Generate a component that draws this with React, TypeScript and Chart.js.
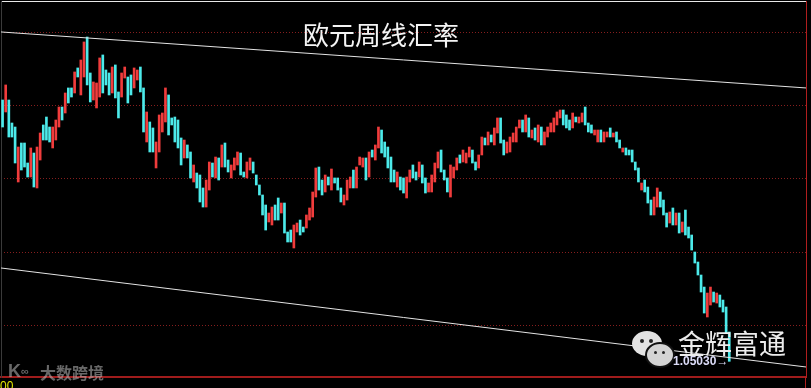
import { useEffect, useRef } from "react";
import { Chart, registerables } from "chart.js";

Chart.register(...registerables);

// Weekly EUR candles (open / close)
const OPEN = [
  1.4082, 1.3918, 1.4082, 1.3767, 1.3712, 1.2959, 1.3493, 1.3493, 1.3219, 1.3027,
  1.3356, 1.2877, 1.3260, 1.3740, 1.3849, 1.3712, 1.3425, 1.3534, 1.3712, 1.3986,
  1.3904, 1.4247, 1.4247, 1.4178, 1.4521, 1.4151, 1.4397, 1.4945, 1.4452, 1.4082,
  1.3973, 1.4123, 1.4699, 1.4493, 1.4452, 1.4178, 1.4562, 1.4192, 1.4123, 1.4383,
  1.4397, 1.4425,
  1.4247, 1.4356, 1.4534, 1.4247, 1.3507, 1.3781, 1.3699, 1.3151, 1.3370, 1.3644,
  1.3781, 1.4151, 1.3836, 1.3849, 1.3808, 1.3562, 1.3288, 1.3466, 1.3370, 1.2959,
  1.3082, 1.3055, 1.2877, 1.2616, 1.2849, 1.3219, 1.3014, 1.3288, 1.3164, 1.3493,
  1.3260, 1.3014, 1.3123, 1.3192, 1.3356, 1.3096, 1.3014, 1.3123, 1.3233, 1.3055,
  1.2918, 1.2781, 1.2644, 1.2411,
  1.2370, 1.2644, 1.2740, 1.2534, 1.2671, 1.2274, 1.2301, 1.2055, 1.2274, 1.2438,
  1.2342, 1.2329, 1.2438, 1.2479, 1.2753, 1.3164, 1.2986, 1.2822, 1.3027, 1.2849,
  1.3014, 1.3014, 1.2877, 1.2644, 1.2712, 1.2877, 1.3123, 1.2877, 1.3192, 1.3164,
  1.3288, 1.3027, 1.3397, 1.3260, 1.3425, 1.3671, 1.3507, 1.3438, 1.3301, 1.3123,
  1.2890, 1.3027, 1.3014,
  1.2740, 1.2959, 1.3192, 1.3096, 1.3027, 1.3192, 1.3014, 1.2822, 1.2822, 1.2959,
  1.3151, 1.3397, 1.3123, 1.3014, 1.2753, 1.3014, 1.3123, 1.3329, 1.3233, 1.3219,
  1.3301, 1.3397, 1.3233, 1.3151, 1.3329, 1.3562, 1.3466, 1.3603, 1.3466, 1.3630,
  1.3836, 1.3534, 1.3356, 1.3370, 1.3507, 1.3507, 1.3699, 1.3808, 1.3644, 1.3836,
  1.3562, 1.3699,
  1.3507, 1.3712, 1.3466, 1.3575, 1.3644, 1.3644, 1.3740, 1.3836, 1.3945, 1.3877,
  1.3808, 1.3699, 1.3849, 1.3767, 1.3781, 1.3986, 1.3767, 1.3740, 1.3603, 1.3507,
  1.3671, 1.3507, 1.3575, 1.3699, 1.3575, 1.3644, 1.3534, 1.3370, 1.3425, 1.3397,
  1.3397, 1.3233, 1.3151, 1.2849, 1.2986, 1.2890, 1.2712, 1.2507, 1.2616, 1.2822,
  1.2712, 1.2534,
  1.2397, 1.2603, 1.2370, 1.2534, 1.2274, 1.2575, 1.2342, 1.2233, 1.2000, 1.1863,
  1.1685, 1.1520, 1.1110, 1.1274, 1.1452, 1.1301, 1.1411, 1.1342, 1.1247, 1.0904,
];

const CLOSE = [
  1.3712, 1.4288, 1.3575, 1.3575, 1.3219, 1.3438, 1.3123, 1.3164, 1.3027, 1.3425,
  1.2890, 1.3438, 1.3630, 1.3534, 1.3534, 1.3507, 1.3712, 1.3808, 1.3986, 1.3808,
  1.4178, 1.4041, 1.4123, 1.4466, 1.4397, 1.4630, 1.4877, 1.4288, 1.4055, 1.4329,
  1.4315, 1.4658, 1.4178, 1.4288, 1.4151, 1.4534, 1.4110, 1.3836, 1.4452, 1.4534,
  1.4041, 1.4151,
  1.4521, 1.4493, 1.4192, 1.3644, 1.3918, 1.3370, 1.3370, 1.3507, 1.3877, 1.3904,
  1.4247, 1.3603, 1.3740, 1.3507, 1.3425, 1.3192, 1.3534, 1.3288, 1.3014, 1.3192,
  1.2877, 1.2685, 1.2616, 1.2986, 1.3233, 1.3027, 1.3301, 1.2986, 1.3466, 1.3164,
  1.3096, 1.3192, 1.3288, 1.3370, 1.3055, 1.3027, 1.3233, 1.3288, 1.3082, 1.2918,
  1.2781, 1.2507, 1.2301, 1.2534,
  1.2616, 1.2438, 1.2438, 1.2671, 1.2260, 1.2137, 1.2137, 1.2370, 1.2397, 1.2233,
  1.2274, 1.2507, 1.2603, 1.2822, 1.3151, 1.2849, 1.2781, 1.3055, 1.2918, 1.3137,
  1.2945, 1.2849, 1.2685, 1.2781, 1.2986, 1.3027, 1.2877, 1.3164, 1.3301, 1.3288,
  1.2986, 1.3370, 1.3301, 1.3466, 1.3712, 1.3356, 1.3301, 1.3151, 1.2959, 1.2959,
  1.3096, 1.2849, 1.2808,
  1.3027, 1.3123, 1.3014, 1.2986, 1.3233, 1.2945, 1.2808, 1.2945, 1.3055, 1.3219,
  1.3370, 1.3096, 1.2986, 1.2822, 1.3192, 1.3164, 1.3288, 1.3219, 1.3397, 1.3356,
  1.3438, 1.3219, 1.3123, 1.3329, 1.3575, 1.3466, 1.3644, 1.3507, 1.3699, 1.3836,
  1.3493, 1.3329, 1.3507, 1.3575, 1.3630, 1.3712, 1.3808, 1.3644, 1.3877, 1.3575,
  1.3671, 1.3534,
  1.3740, 1.3466, 1.3644, 1.3712, 1.3767, 1.3836, 1.3918, 1.3945, 1.3740, 1.3699,
  1.3671, 1.3904, 1.3781, 1.3849, 1.3904, 1.3740, 1.3644, 1.3630, 1.3671, 1.3671,
  1.3507, 1.3644, 1.3644, 1.3575, 1.3630, 1.3507, 1.3425, 1.3425, 1.3329, 1.3329,
  1.3233, 1.3123, 1.2959, 1.2945, 1.2822, 1.2671, 1.2507, 1.2753, 1.2877, 1.2616,
  1.2507, 1.2342,
  1.2548, 1.2370, 1.2534, 1.2260, 1.2411, 1.2233, 1.2192, 1.2027, 1.1849, 1.1685,
  1.1452, 1.1164, 1.1438, 1.1520, 1.1315, 1.1438, 1.1247, 1.1178, 1.0890, 1.0503,
];

const SLOT_COUNT = 257; // weekly slots across the axis (data + empty space on the right)
const Y_MIN = 1.0288;
const Y_MAX = 1.5438;
const GRID_LEVELS = [1.1, 1.2, 1.3, 1.4, 1.5];
const UPPER_CHANNEL = [1.5014, 1.4247];
const LOWER_CHANNEL = [1.1781, 1.0425];
const TITLE = "欧元周线汇率";
const LAST_PRICE = "1.05030";
const BRAND = "金辉富通";
const WATERMARK = "大数跨境";
const AXIS_CORNER = "00";

const UP_COLOR = "#f03c3c";
const DOWN_COLOR = "#4ceaea";

export default function App() {
  const ref = useRef<HTMLCanvasElement>(null);

  useEffect(() => {
    const xl = -0.5;
    const xr = SLOT_COUNT - 0.5;
    const candles = OPEN.map((o, i) => ({ x: i, y: [o, CLOSE[i]] }));
    const colors = OPEN.map((o, i) => (CLOSE[i] >= o ? UP_COLOR : DOWN_COLOR));
    const hidden = { display: false };
    const chart = new Chart(ref.current!, {
      type: "bar",
      data: {
        datasets: [
          {
            type: "line",
            data: [
              { x: xl, y: UPPER_CHANNEL[0] },
              { x: xr, y: UPPER_CHANNEL[1] },
            ],
            borderColor: "#e4e4e4",
            borderWidth: 1,
            pointRadius: 0,
            xAxisID: "x",
            yAxisID: "y",
            order: 0,
          } as any,
          {
            type: "line",
            data: [
              { x: xl, y: LOWER_CHANNEL[0] },
              { x: xr, y: LOWER_CHANNEL[1] },
            ],
            borderColor: "#e4e4e4",
            borderWidth: 1,
            pointRadius: 0,
            xAxisID: "x",
            yAxisID: "y",
            order: 0,
          } as any,
          {
            type: "bar",
            data: candles as any,
            backgroundColor: colors,
            barThickness: 2,
            xAxisID: "x",
            yAxisID: "y",
            order: 1,
          } as any,
        ],
      },
      options: {
        animation: false,
        responsive: false,
        maintainAspectRatio: false,
        layout: { padding: { left: 1, right: 5, top: 1, bottom: 11 } },
        plugins: { legend: hidden, tooltip: { enabled: false } },
        scales: {
          x: {
            type: "linear",
            position: "bottom",
            offset: false,
            min: xl,
            max: xr,
            ticks: hidden,
            grid: { display: false, drawTicks: false, offset: false },
            border: { color: "#a01c1c", width: 2 },
          },
          xTop: {
            type: "linear",
            position: "top",
            offset: false,
            min: xl,
            max: xr,
            ticks: hidden,
            grid: { display: false, drawTicks: false, offset: false },
            border: { color: "#e8e8e8", width: 1 },
          },
          y: {
            type: "linear",
            position: "right",
            min: Y_MIN,
            max: Y_MAX,
            ticks: hidden,
            grid: { color: "#861e1e", drawTicks: false, lineWidth: 1 },
            border: { color: "#b01e1e", width: 1, dash: [1, 2] },
            afterBuildTicks: (s: any) => {
              s.ticks = GRID_LEVELS.map((v) => ({ value: v }));
            },
          },
          yLeft: {
            type: "linear",
            position: "left",
            min: Y_MIN,
            max: Y_MAX,
            ticks: hidden,
            grid: { display: false, drawTicks: false },
            border: { color: "#3a3a3a", width: 1 },
          },
        },
      } as any,
    });
    return () => chart.destroy();
  }, []);

  const cjk = '"Noto Sans CJK SC", "Noto Sans", sans-serif';

  return (
    <div style={{ position: "relative", width: 811, height: 388, background: "#000", overflow: "hidden" }}>
      <style>{"body{margin:0;background:#000}"}</style>
      <canvas ref={ref} width={811} height={388} style={{ position: "absolute", left: 0, top: 0 }} />
      <div style={{ position: "absolute", left: 805, top: 377, width: 1, height: 11, background: "#b01e1e" }} />
      <div
        style={{
          position: "absolute", left: 303, top: 21, fontFamily: cjk, fontSize: 26,
          lineHeight: "26px", color: "#f4f4f4", whiteSpace: "nowrap",
        }}
      >
        {TITLE}
      </div>
      {/* WeChat-like icon */}
      <div style={{ position: "absolute", left: 632, top: 331, width: 30, height: 25, borderRadius: "50%", background: "#e2e2e2" }}>
        <div style={{ position: "absolute", left: 8, top: 8, width: 4, height: 4, borderRadius: "50%", background: "#222" }} />
        <div style={{ position: "absolute", left: 17, top: 8, width: 4, height: 4, borderRadius: "50%", background: "#222" }} />
      </div>
      <div style={{ position: "absolute", left: 645, top: 342, width: 26, height: 22, borderRadius: "50%", background: "#d4d4d4", border: "2px solid #111" }}>
        <div style={{ position: "absolute", left: 7, top: 7, width: 3, height: 3, borderRadius: "50%", background: "#222" }} />
        <div style={{ position: "absolute", left: 15, top: 7, width: 3, height: 3, borderRadius: "50%", background: "#222" }} />
      </div>
      <div
        style={{
          position: "absolute", left: 678, top: 329, fontFamily: cjk, fontSize: 27,
          lineHeight: "27px", color: "#ececec", whiteSpace: "nowrap",
        }}
      >
        {BRAND}
      </div>
      <div
        style={{
          position: "absolute", left: 673, top: 355, fontFamily: '"Liberation Sans", Arial, sans-serif',
          fontSize: 12, fontWeight: "bold", lineHeight: "12px", color: "#dcdcf8", whiteSpace: "nowrap",
        }}
      >
        {LAST_PRICE}→
      </div>
      {/* watermark */}
      <div
        style={{
          position: "absolute", left: 8, top: 362, fontFamily: '"Liberation Sans", sans-serif',
          fontSize: 18, fontWeight: "bold", lineHeight: "18px", color: "rgba(190,190,190,0.55)", whiteSpace: "nowrap",
        }}
      >
        K<span style={{ fontSize: 11, verticalAlign: "top" }}>∞</span>
      </div>
      <div
        style={{
          position: "absolute", left: 40, top: 364, fontFamily: cjk, fontSize: 16, fontWeight: "bold",
          lineHeight: "16px", color: "rgba(190,190,190,0.55)", whiteSpace: "nowrap",
        }}
      >
        {WATERMARK}
      </div>
      <div
        style={{
          position: "absolute", left: 0, top: 380, fontFamily: '"Liberation Sans", Arial, sans-serif',
          fontSize: 12, lineHeight: "12px", color: "#e6e600", whiteSpace: "nowrap",
        }}
      >
        {AXIS_CORNER}
      </div>
    </div>
  );
}
